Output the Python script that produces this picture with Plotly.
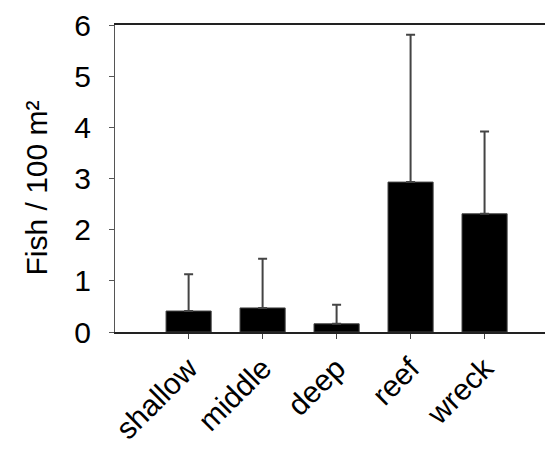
import plotly.graph_objects as go

categories = ["shallow", "middle", "deep", "reef", "wreck"]
means = [0.41, 0.47, 0.16, 2.93, 2.31]
upper = [1.13, 1.43, 0.535, 5.81, 3.92]
err_plus = [u - m for u, m in zip(upper, means)]
y_title = "Fish / 100 m²"

fig = go.Figure()
fig.add_trace(go.Bar(
    x=categories, y=means,
    marker=dict(color="black", line=dict(color="#444", width=1)),
    width=0.61,
    error_y=dict(type="data", array=err_plus, arrayminus=[0]*5, symmetric=False,
                 color="#444", thickness=2, width=4.5),
))

# page body has an 8px default margin, so the figure is shifted by 8px
fig.update_layout(
    width=545, height=441,
    margin=dict(l=107, r=0, t=13, b=117, pad=0),
    plot_bgcolor="white", paper_bgcolor="white",
    font=dict(family="Liberation Sans, Arial", color="black"),
    showlegend=False,
)
fig.update_xaxes(
    range=[-0.995, 4.925],
    showline=True, linecolor="#222", linewidth=1.5, mirror=True,
    ticks="outside", ticklen=5, tickcolor="#444",
    tickangle=-45, tickfont=dict(size=30),
    showgrid=False, zeroline=False,
)
fig.update_yaxes(
    range=[0, 6], tickvals=[0, 1, 2, 3, 4, 5, 6],
    showline=True, linecolor="#555", linewidth=1,
    ticks="outside", ticklen=5, tickcolor="#555",
    tickfont=dict(size=30), ticklabelstandoff=12, ticklabeloverflow="allow",
    showgrid=False, zeroline=False,
)
fig.add_annotation(
    text=y_title, textangle=-90, font=dict(size=30),
    xref="paper", yref="paper", x=0, y=0.5, xanchor="center", yanchor="middle",
    xshift=-79, yshift=-10, showarrow=False,
)

fig.write_html("out.html")
